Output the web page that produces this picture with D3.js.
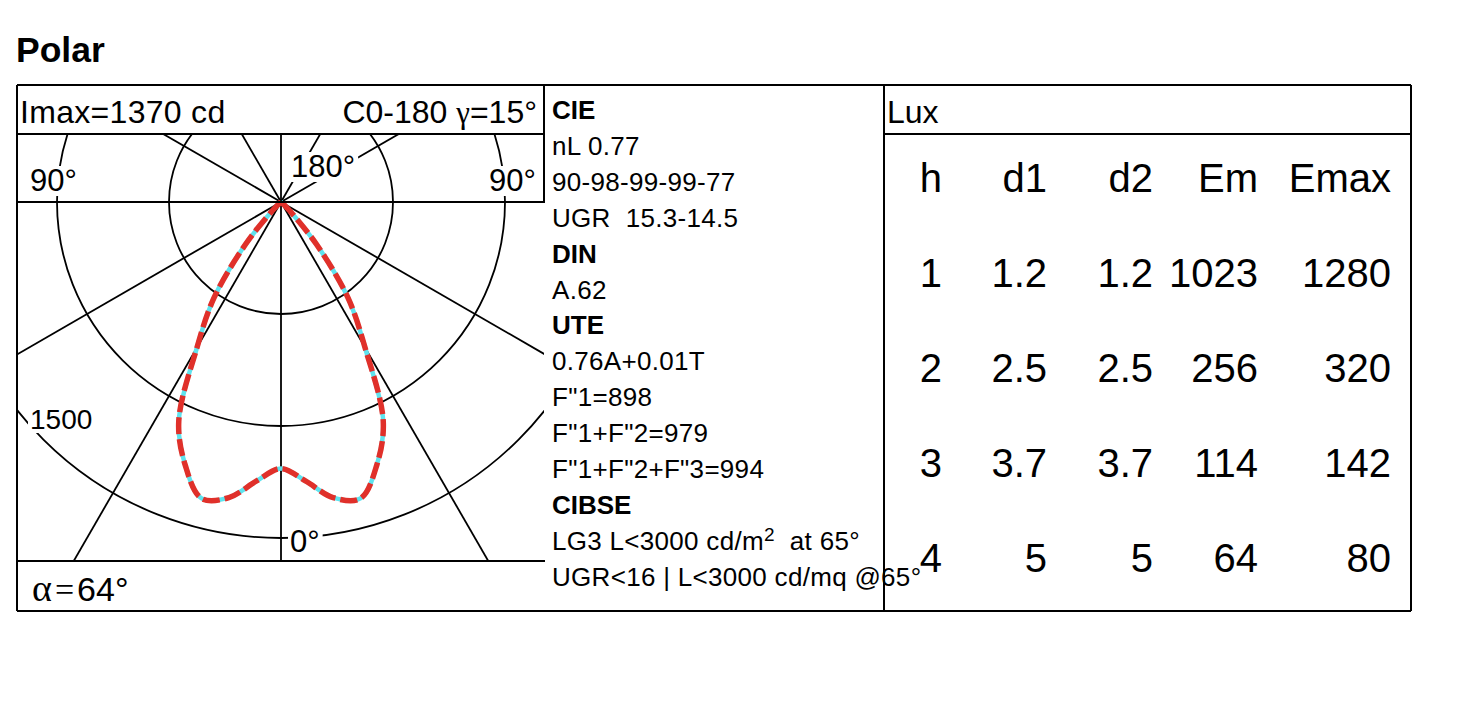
<!DOCTYPE html>
<html><head><meta charset="utf-8">
<script src="https://cdn.jsdelivr.net/npm/d3@7"></script>
<style>
body{margin:0;background:#fff;}
svg{display:block;font-family:"Liberation Sans",Arial,Helvetica,sans-serif;}
text{white-space:pre;}
</style>
</head><body>
<svg id="chart" width="1468" height="722"></svg>
<script>
// ---------------- data ----------------
const chartTitle = "Polar";
const gammaDeg = [0, 5, 10, 15, 20, 25, 30, 35, 40, 45, 50, 55, 60];
const intensityC0 = [1190, 1250, 1340, 1370, 1250, 1080, 750, 520, 245, 55, 15, 4, 0];
const intensityC180 = [1190, 1250, 1340, 1370, 1250, 1080, 750, 520, 245, 55, 15, 4, 0];
const ringValues = [500, 1000, 1500];
const spokeDeg = [0, 30, 60, 90, 120, 150, 180];
const imaxLabel = "Imax=1370 cd";
const planeLabel = "C0-180 ";
const gammaLabel = "15°";
const alphaLabel = "64°";
const ringLabel = "1500";
const cieLines = [
  {t: "CIE", bold: true}, {t: "nL 0.77"}, {t: "90-98-99-99-77"}, {t: "UGR  15.3-14.5"},
  {t: "DIN", bold: true}, {t: "A.62"},
  {t: "UTE", bold: true}, {t: "0.76A+0.01T"}, {t: "F\"1=898"}, {t: "F\"1+F\"2=979"}, {t: "F\"1+F\"2+F\"3=994"},
  {t: "CIBSE", bold: true}, {t: "LG3 L<3000 cd/m", sup: "2", after: "  at 65°"}, {t: "UGR<16 | L<3000 cd/mq @65°"}
];
const luxTitle = "Lux";
const luxColumns = ["h", "d1", "d2", "Em", "Emax"];
const luxH = ["1", "2", "3", "4"];
const luxD1 = ["1.2", "2.5", "3.7", "5"];
const luxD2 = ["1.2", "2.5", "3.7", "5"];
const luxEm = ["1023", "256", "114", "64"];
const luxEmax = ["1280", "320", "142", "80"];

// ---------------- layout ----------------
const svg = d3.select("#chart");
const box = {x0: 17, x1: 1411, y0: 85, y1: 611};
const left = {x0: 17, x1: 544, head: 134, foot: 561};
const midX = 884;
const center = {x: 281, y: 202};
const r = d3.scaleLinear().domain([0, 1500]).range([0, 336]);

svg.append("text").attr("x", 16).attr("y", 62).attr("font-size", 35.5).attr("font-weight", "bold").text(chartTitle);

// clip for polar area
svg.append("defs").append("clipPath").attr("id", "pclip")
  .append("rect").attr("x", left.x0).attr("y", left.head).attr("width", left.x1 - left.x0).attr("height", left.foot - left.head);

const pg = svg.append("g").attr("clip-path", "url(#pclip)");
const grid = pg.append("g").attr("transform", `translate(${center.x},${center.y})`);

grid.selectAll("circle").data(ringValues).join("circle")
  .attr("r", d => r(d)).attr("fill", "none").attr("stroke", "#000").attr("stroke-width", 1.8);

const spokes = [];
spokeDeg.forEach(g => { spokes.push(g); if (g !== 0 && g !== 180) spokes.push(-g); });
grid.selectAll("line.spoke").data(spokes).join("line").attr("class", "spoke")
  .attr("x1", 0).attr("y1", 0)
  .attr("x2", d => -Math.sin(d * Math.PI / 180) * 800)
  .attr("y2", d => Math.cos(d * Math.PI / 180) * 800)
  .attr("stroke", "#000").attr("stroke-width", 1.8);

// photometric curve: left half (C180) from high gamma to 0, right half (C0) 0 to high gamma
const pts = [];
for (let i = gammaDeg.length - 1; i >= 0; i--) pts.push({a: Math.PI + gammaDeg[i] * Math.PI / 180, v: intensityC180[i]});
for (let i = 1; i < gammaDeg.length; i++) pts.push({a: Math.PI - gammaDeg[i] * Math.PI / 180, v: intensityC0[i]});
const radial = d3.lineRadial().angle(d => d.a).radius(d => r(d.v)).curve(d3.curveCatmullRom.alpha(0.5));
grid.append("path").attr("d", radial(pts)).attr("fill", "none").attr("stroke", "#5fe3ee").attr("stroke-width", 4.5);
grid.append("path").attr("d", radial(pts)).attr("fill", "none").attr("stroke", "#e0302a").attr("stroke-width", 5.5)
  .attr("stroke-dasharray", "17,5").attr("stroke-linecap", "butt");

// labels with white background
function bgLabel(x, y, txt, size, anchor) {
  const g = svg.append("g");
  const t = g.append("text").attr("x", x).attr("y", y).attr("font-size", size).attr("text-anchor", anchor || "start").text(txt);
  const b = t.node().getBBox();
  g.insert("rect", "text").attr("x", b.x - 2).attr("y", b.y + 3).attr("width", b.width + 5).attr("height", b.height - 5).attr("fill", "#fff");
  return t;
}
bgLabel(30, 191, "90°", 31);
bgLabel(536, 191, "90°", 31, "end");
bgLabel(291, 177, "180°", 31);
bgLabel(290, 552, "0°", 31);
bgLabel(30, 429, ringLabel, 28);

// headers
svg.append("text").attr("x", 20).attr("y", 123).attr("font-size", 32).attr("letter-spacing", 0.3).text(imaxLabel);
const hr = svg.append("text").attr("x", 537).attr("y", 123).attr("font-size", 32).attr("text-anchor", "end");
hr.append("tspan").text(planeLabel);
hr.append("tspan").attr("font-family", "Liberation Serif, serif").attr("font-size", 31).text("γ");
hr.append("tspan").text("=" + gammaLabel);
const al = svg.append("text").attr("x", 32).attr("y", 601).attr("font-size", 34);
al.append("tspan").attr("font-family", "Liberation Serif, serif").attr("font-size", 38).text("α");
al.append("tspan").attr("font-family", "Liberation Serif, serif").attr("dx", 3).text("=");
al.append("tspan").attr("dx", 3).text(alphaLabel);

// frame lines
const ln = (x1, y1, x2, y2, w) => svg.append("line").attr("x1", x1).attr("y1", y1).attr("x2", x2).attr("y2", y2)
  .attr("stroke", "#000").attr("stroke-width", w || 2);
ln(box.x0, box.y0, box.x1, box.y0);
ln(box.x0, box.y1, box.x1, box.y1);
ln(box.x0, box.y0, box.x0, box.y1);
ln(box.x1, box.y0, box.x1, box.y1);
ln(left.x0, left.head, left.x1, left.head);
ln(left.x0, center.y, left.x1, center.y, 1.8);
ln(left.x0, left.foot, left.x1 + 1, left.foot);
ln(left.x1, box.y0, left.x1, center.y + 1);
ln(midX, box.y0, midX, box.y1);
ln(midX, left.head, box.x1, left.head);

// middle text
const mid = svg.append("g");
cieLines.forEach((d, i) => {
  const t = mid.append("text").attr("x", 552).attr("y", 119 + i * 35.9).attr("font-size", 26)
    .attr("font-weight", d.bold ? "bold" : "normal").attr("letter-spacing", d.bold ? 0 : 0.3);
  t.append("tspan").text(d.t);
  if (d.sup) {
    t.append("tspan").attr("font-size", 19).attr("dy", -9).text(d.sup);
    t.append("tspan").attr("dy", 9).text(d.after);
  }
});

// lux table
svg.append("text").attr("x", 887).attr("y", 123).attr("font-size", 32).text(luxTitle);
const colX = {h: 942, d1: 1047, d2: 1153, Em: 1258, Emax: 1391};
const rowY = d3.scalePoint().domain(["head", "0", "1", "2", "3"]).range([192, 572]);
const tbl = svg.append("g").attr("font-size", 40).attr("text-anchor", "end");
luxColumns.forEach(c => tbl.append("text").attr("x", colX[c]).attr("y", rowY("head")).text(c));
const cols = [luxH, luxD1, luxD2, luxEm, luxEmax];
cols.forEach((arr, ci) => arr.forEach((v, ri) => {
  tbl.append("text").attr("x", colX[luxColumns[ci]]).attr("y", rowY(String(ri))).text(v);
}));
</script>
</body></html>
